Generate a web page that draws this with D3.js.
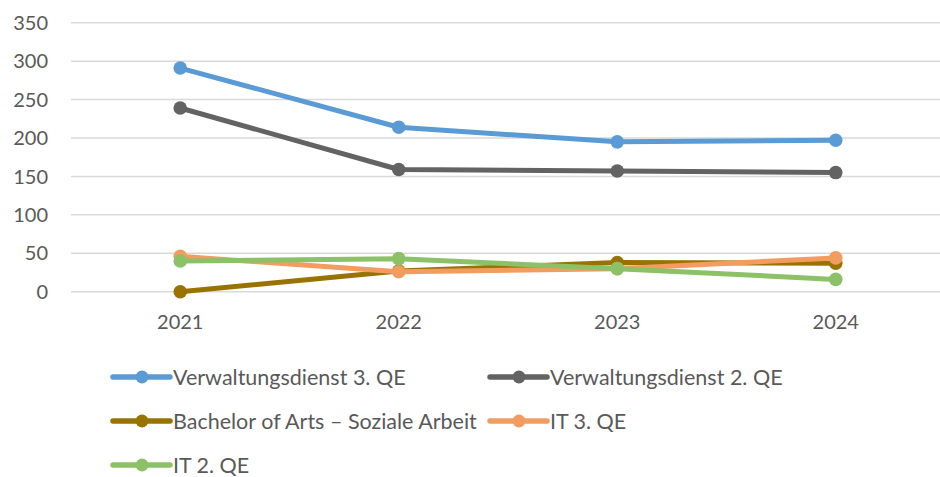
<!DOCTYPE html>
<html>
<head>
<meta charset="utf-8">
<script src="https://cdn.jsdelivr.net/npm/d3@7"></script>
<style>
  body { margin: 0; background: #fff; }
  svg { display: block; font-family: Lato, "Open Sans", sans-serif; }
</style>
</head>
<body>
<div id="chart"></div>
<script>
// chart data
const years = ["2021", "2022", "2023", "2024"];
const seriesNames = ["Verwaltungsdienst 3. QE", "Verwaltungsdienst 2. QE", "Bachelor of Arts – Soziale Arbeit", "IT 3. QE", "IT 2. QE"];
const verwaltung3 = [291, 214, 195, 197];
const verwaltung2 = [239, 159, 157, 155];
const bachelorSozial = [0, 27, 38, 37];
const it3 = [46, 26, 30, 44];
const it2 = [40, 43, 30, 16];
const yTicks = [0, 50, 100, 150, 200, 250, 300, 350];

const colors = ["#5B9BD5", "#636363", "#997300", "#F39C60", "#8CC168"];
const allValues = [verwaltung3, verwaltung2, bachelorSozial, it3, it2];

const width = 940, height = 477;
const plotLeft = 71, plotRight = 945;
const plotTop = 22.7, plotBottom = 291.7;

const svg = d3.select("#chart").append("svg")
  .attr("width", width)
  .attr("height", height)
  .attr("viewBox", [0, 0, width, height]);

const x = d3.scaleBand(years, [plotLeft, plotRight]);
const y = d3.scaleLinear([0, 350], [plotBottom, plotTop]);
const cx = d => x(d) + x.bandwidth() / 2;

// gridlines
svg.append("g")
  .selectAll("line")
  .data(yTicks)
  .join("line")
    .attr("x1", plotLeft)
    .attr("x2", plotRight)
    .attr("y1", d => y(d))
    .attr("y2", d => y(d))
    .attr("stroke", "#d9d9d9")
    .attr("stroke-width", 1.5);

// y axis labels
svg.append("g")
  .selectAll("text")
  .data(yTicks)
  .join("text")
    .attr("x", 48)
    .attr("y", d => y(d))
    .attr("dy", "0.36em")
    .attr("text-anchor", "end")
    .attr("font-size", 20)
    .attr("fill", "#595959")
    .text(d => d);

// x axis labels
svg.append("g")
  .selectAll("text")
  .data(years)
  .join("text")
    .attr("x", d => cx(d))
    .attr("y", 329)
    .attr("text-anchor", "middle")
    .attr("font-size", 20)
    .attr("fill", "#595959")
    .text(d => d);

// lines and markers
const line = d3.line()
  .x((d, i) => cx(years[i]))
  .y(d => y(d));

allValues.forEach((vals, s) => {
  const g = svg.append("g");
  g.append("path")
    .datum(vals)
    .attr("d", line)
    .attr("fill", "none")
    .attr("stroke", colors[s])
    .attr("stroke-width", 5)
    .attr("stroke-linejoin", "round")
    .attr("stroke-linecap", "round");
  g.selectAll("circle")
    .data(vals)
    .join("circle")
      .attr("cx", (d, i) => cx(years[i]))
      .attr("cy", d => y(d))
      .attr("r", 6.8)
      .attr("fill", colors[s]);
});

// legend
const legendPos = [
  {x: 113, y: 377}, {x: 490, y: 377},
  {x: 113, y: 421}, {x: 490, y: 421},
  {x: 113, y: 465}
];

const legend = svg.append("g")
  .selectAll("g")
  .data(seriesNames)
  .join("g")
    .attr("transform", (d, i) => `translate(${legendPos[i].x},${legendPos[i].y})`);

legend.append("line")
  .attr("x1", 0).attr("x2", 57)
  .attr("stroke", (d, i) => colors[i])
  .attr("stroke-width", 5.5)
  .attr("stroke-linecap", "round");

legend.append("circle")
  .attr("cx", 29)
  .attr("r", 6.5)
  .attr("fill", (d, i) => colors[i]);

legend.append("text")
  .attr("x", 60)
  .attr("dy", "0.36em")
  .attr("font-size", 21.5)
  .attr("fill", "#595959")
  .text(d => d);
</script>
</body>
</html>
